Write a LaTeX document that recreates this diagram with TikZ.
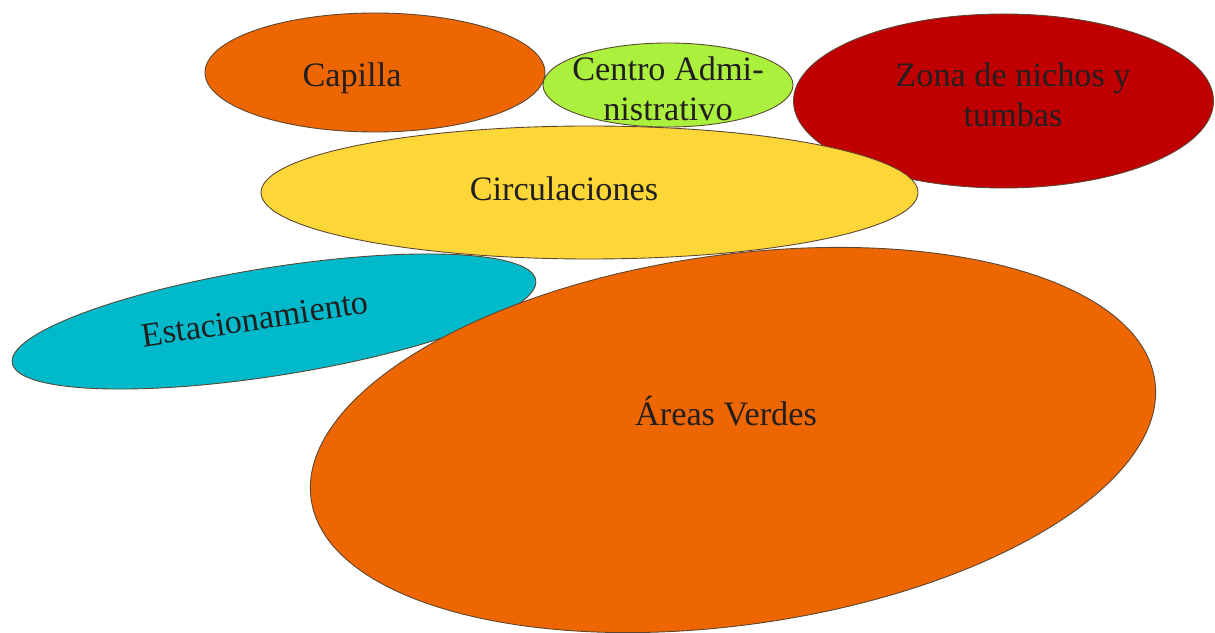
\documentclass[tikz,border=0pt]{standalone}
\usepackage{fontspec}
\setmainfont{Liberation Serif}
\definecolor{naranja}{RGB}{238,102,0}
\definecolor{lima}{RGB}{170,240,60}
\definecolor{rojo}{RGB}{192,0,0}
\definecolor{amarillo}{RGB}{253,215,55}
\definecolor{turquesa}{RGB}{0,186,204}
\definecolor{borde}{RGB}{90,70,50}
\definecolor{texto}{RGB}{35,31,32}
\begin{document}
\begin{tikzpicture}[zona/.style={draw=borde, line width=0.5pt},
                    etiqueta/.style={text=texto, inner sep=0pt, align=center, font=\fontsize{19.5}{22.5}\selectfont}]
              \useasboundingbox (0,0) rectangle (24.3,12.64);
              \draw[zona, fill=turquesa, rotate around={9:(5.48,6.21)}] (5.48,6.21) ellipse (5.30 and 1.08);
              \draw[zona, fill=naranja, rotate around={8:(14.66,3.84)}] (14.66,3.84) ellipse (8.52 and 3.70);
              \draw[zona, fill=rojo] (20.07,10.62) ellipse (4.20 and 1.74);
              \draw[zona, fill=amarillo] (11.79,8.79) ellipse (6.57 and 1.33);
              \draw[zona, fill=naranja] (7.50,11.19) ellipse (3.40 and 1.19);
              \draw[zona, fill=lima] (13.36,10.94) ellipse (2.50 and 0.84);
              \node[etiqueta] (capilla) at (7.04,11.08) {Capilla};
              \node[etiqueta] (centro) at (13.36,10.86) {Centro Admi-\\nistrativo};
              \node[etiqueta] (nichos) at (20.26,10.74) {Zona de nichos y\\tumbas};
              \node[etiqueta] (circulaciones) at (11.28,8.86) {Circulaciones};
              \node[etiqueta, rotate=8.6] (estacionamiento) at (5.10,6.26) {Estacionamiento};
              \node[etiqueta] (verdes) at (14.52,4.42) {Áreas Verdes};
            \end{tikzpicture}
\end{document}
